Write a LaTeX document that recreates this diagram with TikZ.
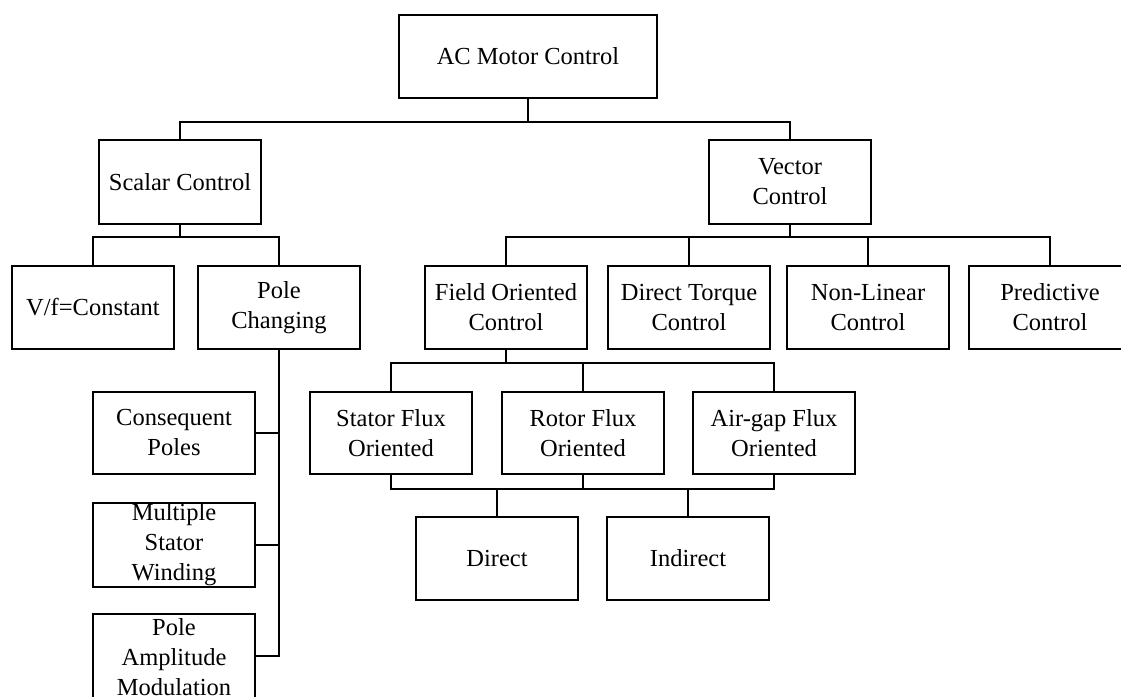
\documentclass[tikz,border=0pt]{standalone}
\usepackage{fontspec}
\setmainfont{Liberation Serif}
\begin{document}
\begin{tikzpicture}[x=1pt,y=-1pt,
  line width=2.8pt,
  blk/.style={draw, rectangle, minimum width=162pt, minimum height=83pt,
    inner sep=0pt, align=center, font=\fontsize{24.5}{30}\selectfont},
  wide/.style={blk, minimum width=258pt},
  link/.style={draw, line width=2.8pt}]
\useasboundingbox (0,0) rectangle (1121,696);

% root
\node[wide] (ac) at (528,56.5) {AC Motor Control};

% first level
\node[blk, minimum height=84pt] (scalar) at (180,182) {Scalar Control};
\node[blk, minimum height=84pt] (vector) at (790,182) {Vector\\Control};

% scalar branch
\node[blk] (vf)   at (93,307.5)  {V/f=Constant};
\node[blk] (pole) at (279,307.5) {Pole\\Changing};
\node[blk, minimum height=82pt] (cons) at (174,433) {Consequent\\Poles};
\node[blk, minimum height=84pt] (mult) at (174,545) {Multiple\\Stator\\Winding};
\node[blk, minimum height=86pt] (pam)  at (174,657) {Pole\\Amplitude\\Modulation};

% vector branch
\node[blk] (foc)  at (506,307.5)  {Field Oriented\\Control};
\node[blk] (dtc)  at (689,307.5)  {Direct Torque\\Control};
\node[blk] (nl)   at (868,307.5)  {Non-Linear\\Control};
\node[blk] (pred) at (1050,307.5) {Predictive\\Control};

% field oriented control variants
\node[blk, minimum height=82pt] (stator) at (391,433) {Stator Flux\\Oriented};
\node[blk, minimum height=82pt] (rotor)  at (583,433) {Rotor Flux\\Oriented};
\node[blk, minimum height=82pt] (airgap) at (774,433) {Air-gap Flux\\Oriented};

% implementation
\node[blk] (direct)   at (497,558.5) {Direct};
\node[blk] (indirect) at (688,558.5) {Indirect};

% bus junctions
\coordinate (b1) at (528,122);
\coordinate (b2) at (180,237);
\coordinate (b3) at (790,237);
\coordinate (b4) at (506,363);
\coordinate (b5) at (583,489);

% connectors
\draw[link] (ac.south) -- (b1);
\draw[link] (scalar.north) |- (b1) -| (vector.north);

\draw[link] (scalar.south) -- (b2);
\draw[link] (vf.north) |- (b2) -| (pole.north);

\draw[link] (pole.south) |- (pam.east |- 0,656);
\draw[link] (cons.east) -- (cons.east -| pole.south);
\draw[link] (mult.east) -- (mult.east -| pole.south);

\draw[link] (vector.south) -- (b3);
\draw[link] (foc.north) |- (b3) -| (pred.north);
\draw[link] (dtc.north) -- (dtc.north |- b3);
\draw[link] (nl.north) -- (nl.north |- b3);

\draw[link] (foc.south) -- (b4);
\draw[link] (stator.north) |- (b4) -| (airgap.north);
\draw[link] (rotor.north) -- (rotor.north |- b4);

\draw[link] (stator.south) |- (b5) -| (airgap.south);
\draw[link] (rotor.south) -- (b5);
\draw[link] (direct.north) -- (direct.north |- b5);
\draw[link] (indirect.north) -- (indirect.north |- b5);
\end{tikzpicture}
\end{document}
